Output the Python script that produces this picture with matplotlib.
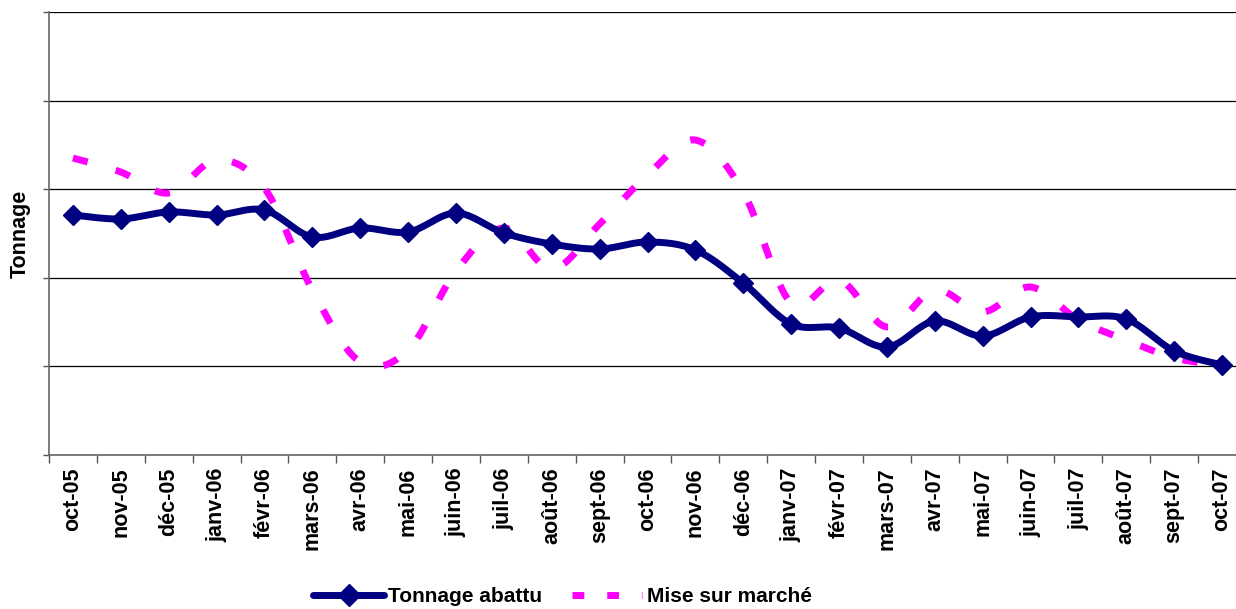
import numpy as np
import matplotlib
matplotlib.use('Agg')
import matplotlib.pyplot as plt
from matplotlib.lines import Line2D

months = ['oct-05', 'nov-05', 'déc-05', 'janv-06', 'févr-06', 'mars-06', 'avr-06',
          'mai-06', 'juin-06', 'juil-06', 'août-06', 'sept-06', 'oct-06', 'nov-06',
          'déc-06', 'janv-07', 'févr-07', 'mars-07', 'avr-07', 'mai-07', 'juin-07',
          'juil-07', 'août-07', 'sept-07', 'oct-07']

tonnage_abattu = [2709, 2664, 2743, 2709, 2765, 2460, 2562, 2517, 2731, 2506, 2381, 2325,
                  2404, 2314, 1941, 1479, 1433, 1219, 1512, 1343, 1558, 1558, 1535, 1174, 1016]

mise_sur_marche = [3352, 3194, 2957, 3330, 3014, 1862, 1050, 1185, 2077, 2562, 2099, 2607,
                   3160, 3555, 2968, 1716, 1975, 1445, 1862, 1614, 1896, 1524, 1298, 1095, 1016]

yticks = [0, 1000, 2000, 3000, 4000, 5000]

plt.rcParams['font.family'] = ['Liberation Sans', 'DejaVu Sans']


def smooth(vals, n=30):
    # Excel-style smoothed line: cubic Bezier segments with Catmull-Rom controls
    x = np.arange(len(vals), dtype=float)
    pts = np.column_stack([x, np.asarray(vals, float)])
    P = np.vstack([pts[0], pts, pts[-1]])
    t = np.linspace(0, 1, n, endpoint=False)[:, None]
    out = []
    for i in range(1, len(P) - 2):
        p0, p1, p2, p3 = P[i - 1], P[i], P[i + 1], P[i + 2]
        c1 = p1 + (p2 - p0) / 6.0
        c2 = p2 - (p3 - p1) / 6.0
        seg = (1 - t) ** 3 * p1 + 3 * (1 - t) ** 2 * t * c1 + 3 * (1 - t) * t ** 2 * c2 + t ** 3 * p2
        out.append(seg)
    out.append(pts[-1][None, :])
    return np.vstack(out)


W, H = 1236, 609
fig = plt.figure(figsize=(W / 100, H / 100), dpi=100)
left, right, top, bottom = 49, 1246, 12, 455
ax = fig.add_axes([left / W, (H - bottom) / H, (right - left) / W, (bottom - top) / H])

x = np.arange(len(months))
navy = '#000080'
magenta = '#FF00FF'

sm = smooth(mise_sur_marche)
ax.plot(sm[:, 0], sm[:, 1], color=magenta, lw=5.0, dashes=(2.2, 4.2), solid_capstyle='butt',
        dash_capstyle='butt', zorder=3)

st = smooth(tonnage_abattu)
ax.plot(st[:, 0], st[:, 1], color=navy, lw=5.0, solid_capstyle='round', zorder=4)
ax.plot(x, tonnage_abattu, ls='none', marker='D', ms=10, color=navy, zorder=5)

ax.set_xlim(-0.5, len(months) - 0.5)
ax.set_ylim(0, 5000)
ax.set_yticks(yticks)
ax.set_yticklabels([])
ax.yaxis.grid(True, color='black', lw=0.9)
ax.set_axisbelow(True)

ax.set_xticks(x)
ax.set_xticklabels(months, rotation=90, fontsize=15.5, fontweight='bold')
ax.set_xticks(np.arange(-0.5, len(months), 1.0), minor=True)
ax.tick_params(axis='x', which='major', length=0, pad=9)
ax.tick_params(axis='x', which='minor', length=6, width=1, color='#555555', direction='out')
ax.tick_params(axis='y', length=4, width=1, color='#555555', direction='out')

for s in ['top', 'right']:
    ax.spines[s].set_visible(False)
for s in ['left', 'bottom']:
    ax.spines[s].set_color('#666666')
    ax.spines[s].set_linewidth(1.2)

ax.set_ylabel('Tonnage', fontsize=15.5, fontweight='bold', labelpad=5.5)

h1 = Line2D([], [], color=navy, lw=5, marker='D', ms=11, solid_capstyle='round')
h2 = Line2D([], [], color=magenta, lw=5, dashes=(1.7, 3.3), dash_capstyle='butt')
leg = fig.legend([h1, h2], ['Tonnage abattu', 'Mise sur marché'], loc='lower center',
                 bbox_to_anchor=(0.455, -0.026), ncol=2, frameon=False,
                 prop={'size': 15, 'weight': 'bold'}, handlelength=3.4, handletextpad=0.2,
                 columnspacing=1.4)

fig.savefig('out.png', dpi=100)
